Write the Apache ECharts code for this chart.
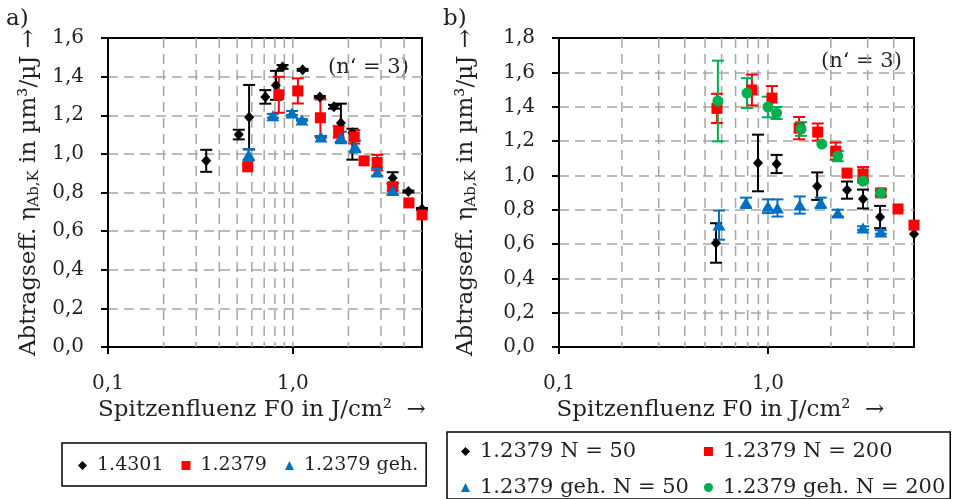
<!DOCTYPE html>
<html><head><meta charset="utf-8">
<script src="https://cdn.jsdelivr.net/npm/echarts@6/dist/echarts.min.js"></script>
<style>html,body{margin:0;padding:0;background:#fff}#c{width:955px;height:499px}</style>
</head><body><div id="c"></div>
<script>
// ---------- Panel a) ----------
const a_14301_x   = [0.34, 0.51, 0.58, 0.71, 0.81, 0.88, 1.13, 1.40, 1.67, 1.82, 2.10, 3.47, 4.22, 5.0];
const a_14301_y   = [0.964, 1.10, 1.19, 1.295, 1.355, 1.45, 1.435, 1.295, 1.244, 1.16, 1.11, 0.875, 0.805, 0.715];
const a_14301_eUp = [0.057, 0.025, 0.167, 0.035, 0.075, 0.01, 0.005, 0.005, 0.01, 0.1, 0.02, 0.03, 0.005, 0.005];
const a_14301_eDn = [0.057, 0.025, 0.167, 0.035, 0.075, 0.01, 0.005, 0.005, 0.01, 0.1, 0.14, 0.03, 0.005, 0.005];

const a_12379_x   = [0.57, 0.84, 1.065, 1.41, 1.77, 2.15, 2.43, 2.86, 3.47, 4.25, 5.0];
const a_12379_y   = [0.933, 1.306, 1.326, 1.187, 1.114, 1.088, 0.964, 0.955, 0.83, 0.746, 0.684];
const a_12379_e   = [0, 0.093, 0.065, 0.095, 0.03, 0.035, 0, 0.04, 0.02, 0, 0];

const a_geh_x     = [0.577, 0.78, 0.99, 1.12, 1.42, 1.82, 2.17, 2.86, 3.47];
const a_geh_y     = [0.995, 1.197, 1.212, 1.176, 1.088, 1.085, 1.038, 0.906, 0.81];
const a_geh_e     = [0.03, 0.01, 0.01, 0.005, 0.005, 0.03, 0.03, 0.02, 0.02];

// ---------- Panel b) ----------
const b_n50_x     = [0.564, 0.896, 1.10, 1.72, 2.39, 2.85, 3.44, 5.0];
const b_n50_y     = [0.606, 1.072, 1.066, 0.937, 0.914, 0.862, 0.757, 0.658];
const b_n50_e     = [0.115, 0.165, 0.053, 0.08, 0.05, 0.055, 0.065, 0];

const b_n200_x    = [0.57, 0.838, 1.045, 1.41, 1.73, 2.11, 2.39, 2.85, 3.47, 4.19, 5.0];
const b_n200_y    = [1.39, 1.497, 1.45, 1.275, 1.252, 1.141, 1.013, 1.008, 0.898, 0.804, 0.71];
const b_n200_e    = [0.085, 0.09, 0.07, 0.065, 0.05, 0.05, 0, 0.04, 0.02, 0, 0];

const b_geh50_x   = [0.583, 0.785, 1.0, 1.11, 1.42, 1.79, 2.16, 2.85, 3.47];
const b_geh50_y   = [0.71, 0.84, 0.82, 0.81, 0.827, 0.84, 0.78, 0.693, 0.67];
const b_geh50_e   = [0.085, 0.03, 0.04, 0.05, 0.05, 0.03, 0.02, 0.01, 0.01];

const b_geh200_x  = [0.576, 0.794, 1.0, 1.1, 1.44, 1.81, 2.16, 2.85, 3.47];
const b_geh200_y  = [1.433, 1.479, 1.398, 1.363, 1.27, 1.182, 1.112, 0.967, 0.897];
const b_geh200_e  = [0.235, 0.087, 0.06, 0.035, 0.04, 0, 0.03, 0.01, 0.01];

// axis ticks / grid values
const xMin = 0.1, xMax = 5;
const xTickValues = [0.1, 1];
const xGridValues = [0.2, 0.3, 0.4, 0.5, 0.6, 0.7, 0.8, 0.9, 1, 2, 3, 4];
const yMaxA = 1.6, yMaxB = 1.8, yStep = 0.2;

const FONT = '"DejaVu Serif", serif';
const TXT = '#231f20';
const C_BLACK = '#000000', C_RED = '#ff0000', C_BLUE = '#0070c0', C_GREEN = '#00b050';

function zip(xs, ys) { return xs.map((x, i) => [x, ys[i]]); }
function fmt(v) { return Number(v).toFixed(1).replace('.', ','); }

function scatter(name, xs, ys, idx, symbol, size, color) {
  return { type: 'scatter', name, xAxisIndex: idx, yAxisIndex: idx, data: zip(xs, ys),
    symbol, symbolSize: size, itemStyle: { color, opacity: 1 }, clip: false, z: 3,
    emphasis: { disabled: true } };
}
function errBars(name, xs, ys, up, dn, idx, color) {
  const data = xs.map((x, i) => [x, ys[i], up[i], dn[i]]);
  return { type: 'custom', name, xAxisIndex: idx, yAxisIndex: idx, data, clip: false, z: 3,
    encode: { x: 0, y: 1 }, silent: true,
    renderItem(params, api) {
      const x = api.value(0), y = api.value(1), u = api.value(2), d = api.value(3);
      if (!u && !d) return null;
      const t = api.coord([x, y + u]), b = api.coord([x, y - d]);
      const hw = 6, st = { stroke: color, lineWidth: 2 };
      return { type: 'group', children: [
        { type: 'line', shape: { x1: t[0], y1: t[1], x2: b[0], y2: b[1] }, style: st },
        { type: 'line', shape: { x1: t[0] - hw, y1: t[1], x2: t[0] + hw, y2: t[1] }, style: st },
        { type: 'line', shape: { x1: b[0] - hw, y1: b[1], x2: b[0] + hw, y2: b[1] }, style: st }
      ]};
    } };
}
function gridLines(idx, yMax) {
  return { type: 'custom', name: 'grid' + idx, xAxisIndex: idx, yAxisIndex: idx, silent: true, z: 1,
    data: xGridValues.map(v => [v, 0]), encode: { x: 0, y: 1 },
    renderItem(params, api) {
      const v = api.value(0);
      const p1 = api.coord([v, yMax]), p2 = api.coord([v, 0]);
      return { type: 'line', shape: { x1: p1[0], y1: p1[1], x2: p2[0], y2: p2[1] },
        style: { stroke: '#a6a6a6', lineWidth: 1.5, lineDash: [10, 6] } };
    } };
}

function xAxis(idx, namePad) {
  return { gridIndex: idx, type: 'log', logBase: 10, min: xMin, max: xMax,
    axisLine: { show: true, onZero: false, lineStyle: { color: '#000', width: 2 } },
    axisTick: { show: true, length: 7, customValues: xTickValues, lineStyle: { color: '#000', width: 2 } },
    axisLabel: { customValues: xTickValues, margin: 27, fontSize: 20, fontFamily: FONT, color: TXT, formatter: fmt },
    splitLine: { show: false }, minorTick: { show: false },
    name: 'Spitzenfluenz F0 in J/cm²  →', nameLocation: 'middle', nameGap: 50,
    nameTextStyle: { fontSize: 23, fontFamily: FONT, color: TXT, padding: namePad } };
}
function yAxis(idx, yMax, nameGap) {
  return { gridIndex: idx, type: 'value', min: 0, max: yMax, interval: yStep,
    axisLine: { show: true, lineStyle: { color: '#000', width: 2 } },
    axisTick: { show: true, length: 7, lineStyle: { color: '#000', width: 2 } },
    axisLabel: { margin: 24, fontSize: 20, fontFamily: FONT, color: TXT, formatter: fmt },
    splitLine: { show: true, showMinLine: false, showMaxLine: false, lineStyle: { color: '#a6a6a6', width: 1.5, type: [10, 6] } },
    name: '{t|Abtragseff. η}{s|Ab,K}{t| in µm³/µJ →}', nameLocation: 'middle', nameGap,
    nameTextStyle: { color: TXT, rich: {
      t: { fontSize: 23, fontFamily: FONT, color: TXT, lineHeight: 26 },
      s: { fontSize: 15, fontFamily: FONT, color: TXT, lineHeight: 10, verticalAlign: 'bottom' } } } };
}

const legendText = (fs) => ({ fontSize: fs, fontFamily: FONT, color: TXT, padding: [0, 0, 0, 5] });

const option = {
  animation: false,
  backgroundColor: '#fff',
  grid: [
    { left: 108, top: 38, width: 314, height: 309, show: true, borderColor: '#000', borderWidth: 2, backgroundColor: 'transparent' },
    { left: 559, top: 38, width: 355, height: 309, show: true, borderColor: '#000', borderWidth: 2, backgroundColor: 'transparent' }
  ],
  xAxis: [ xAxis(0, [0, 6, 0, 0]), xAxis(1, [0, 32, 0, 0]) ],
  yAxis: [ yAxis(0, yMaxA, 66), yAxis(1, yMaxB, 80) ],
  legend: [
    { data: ['1.4301', '1.2379', '1.2379 geh.'], orient: 'horizontal', left: 62, top: 443,
      padding: [13, 8, 11, 16], itemGap: 18, itemWidth: 9, itemHeight: 9,
      borderColor: '#000', borderWidth: 1.5, textStyle: legendText(19), selectedMode: false },
    { data: ['1.2379 N = 50', '1.2379 geh. N = 50', '1.2379 N = 200', '1.2379 geh. N = 200'],
      orient: 'vertical', left: 447, top: 432, height: 66,
      padding: [9, 5, 1, 14], itemGap: 15, itemWidth: 9, itemHeight: 9,
      borderColor: '#000', borderWidth: 1.5, textStyle: Object.assign(legendText(21), { width: 250 }), selectedMode: false }
  ],
  graphic: [
    { type: 'text', left: 6, top: 8, style: { text: 'a)', font: '23px ' + FONT, fill: TXT } },
    { type: 'text', left: 443, top: 8, style: { text: 'b)', font: '23px ' + FONT, fill: TXT } },
    { type: 'text', left: 328, top: 57, style: { text: '(n‘ = 3)', font: '21px ' + FONT, fill: TXT } },
    { type: 'text', left: 821, top: 51, style: { text: '(n‘ = 3)', font: '21px ' + FONT, fill: TXT } }
  ],
  series: [
    gridLines(0, yMaxA), gridLines(1, yMaxB),
    errBars('eb-a1', a_14301_x, a_14301_y, a_14301_eUp, a_14301_eDn, 0, C_BLACK),
    scatter('1.4301', a_14301_x, a_14301_y, 0, 'diamond', [10, 11], C_BLACK),
    errBars('eb-a2', a_12379_x, a_12379_y, a_12379_e, a_12379_e, 0, C_RED),
    scatter('1.2379', a_12379_x, a_12379_y, 0, 'rect', 11, C_RED),
    errBars('eb-a3', a_geh_x, a_geh_y, a_geh_e, a_geh_e, 0, C_BLUE),
    scatter('1.2379 geh.', a_geh_x, a_geh_y, 0, 'triangle', [13, 11], C_BLUE),

    errBars('eb-b1', b_n50_x, b_n50_y, b_n50_e, b_n50_e, 1, C_BLACK),
    scatter('1.2379 N = 50', b_n50_x, b_n50_y, 1, 'diamond', [10, 11], C_BLACK),
    errBars('eb-b2', b_n200_x, b_n200_y, b_n200_e, b_n200_e, 1, C_RED),
    scatter('1.2379 N = 200', b_n200_x, b_n200_y, 1, 'rect', 11, C_RED),
    errBars('eb-b3', b_geh50_x, b_geh50_y, b_geh50_e, b_geh50_e, 1, C_BLUE),
    scatter('1.2379 geh. N = 50', b_geh50_x, b_geh50_y, 1, 'triangle', [13, 11], C_BLUE),
    errBars('eb-b4', b_geh200_x, b_geh200_y, b_geh200_e, b_geh200_e, 1, C_GREEN),
    scatter('1.2379 geh. N = 200', b_geh200_x, b_geh200_y, 1, 'circle', 11, C_GREEN)
  ]
};
const chart = echarts.init(document.getElementById('c'), null, { renderer: 'canvas' });
chart.setOption(option);
</script>
</body></html>
